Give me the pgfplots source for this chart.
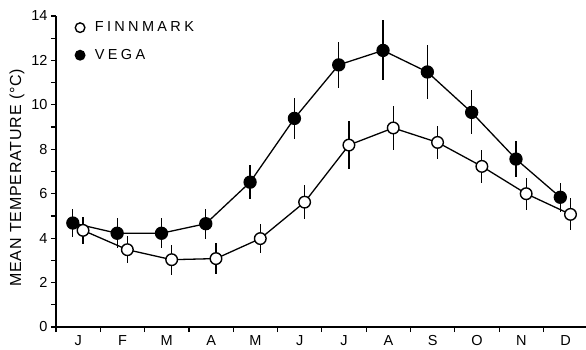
\documentclass[border=0pt]{standalone}
\usepackage{fontspec}
\setmainfont{Liberation Sans}
\newfontfamily\legfont[LetterSpace=23]{Liberation Sans}
\newfontfamily\labfont[LetterSpace=5]{Liberation Sans}
\usepackage{pgfplots}
\usepackage{pgfplotstable}
\pgfplotsset{compat=1.18}

\pgfplotstableread{
x y e
0.88 4.68 0.62
1.88 4.22 0.67
2.88 4.22 0.67
3.88 4.65 0.67
4.88 6.52 0.78
5.88 9.39 0.93
6.88 11.80 1.05
7.88 12.45 1.35
8.88 11.48 1.22
9.88 9.66 0.99
10.88 7.56 0.82
11.88 5.84 0.65
}\vega

\pgfplotstableread{
x y e
1.11 4.35 0.60
2.11 3.48 0.60
3.11 3.03 0.67
4.11 3.08 0.70
5.11 3.98 0.64
6.11 5.62 0.75
7.11 8.19 1.08
8.11 8.96 1.00
9.11 8.31 0.75
10.11 7.23 0.75
11.11 6.00 0.73
12.11 5.07 0.72
}\finn

\begin{document}
\begin{tikzpicture}
\begin{axis}[
  scale only axis, width=530pt, height=311pt,
  xmin=0.5, xmax=12.46, ymin=0, ymax=14,
  clip=false,
  axis x line=bottom, axis y line=left,
  axis line style={line width=1.3pt,-},
  tick align=outside,
  major tick length=5pt, minor tick length=5pt,
  tick style={line width=1.2pt, black},
  xtick={0.5,1.5,...,11.5},
  xticklabels={},
  extra x ticks={1,2,3,4,5,6,7,8,9,10,11,12},
  extra x tick labels={J,F,M,A,M,J,J,A,S,O,N,D},
  extra x tick style={major tick length=0pt, xticklabel style={yshift=-5pt}},
  ytick={0,2,...,14},
  minor y tick num=1,
  tick label style={font=\fontsize{14.5}{16}\selectfont},
  /pgf/number format/assume math mode=true,
  ylabel={MEAN TEMPERATURE (°C)},
  ylabel style={at={(axis description cs:-0.0736,0.48)}, anchor=center, font=\labfont\fontsize{16}{18}\selectfont},
  reverse legend,
  legend cell align=left,
  legend style={draw=none, fill=none, at={(axis description cs:0.036,0.988)}, anchor=north west,
    font=\legfont\fontsize{14.5}{16}\selectfont, row sep=12pt, column sep=8pt, inner sep=0pt},
  legend image code/.code={\draw[#1, mark size=4.8pt] plot coordinates {(0pt,0pt)};},
]
\addplot[black, line width=1.3pt, mark=*, mark size=6pt,
  mark options={solid, fill=black, draw=black},
  error bars/.cd, y dir=both, y explicit, error mark=none,
  error bar style={line width=1.2pt, black}]
  table[x=x, y=y, y error=e]{\vega};
\addlegendentry{VEGA}
\addplot[black, line width=1.3pt, mark=*, mark size=5.8pt,
  mark options={solid, fill=white, draw=black, line width=1.4pt},
  error bars/.cd, y dir=both, y explicit, error mark=none,
  error bar style={line width=1.2pt, black}]
  table[x=x, y=y, y error=e]{\finn};
\addlegendentry{FINNMARK}
\end{axis}
\pgfresetboundingbox
\path (-56pt,-22pt) rectangle (530pt,327pt);
\end{tikzpicture}
\end{document}
